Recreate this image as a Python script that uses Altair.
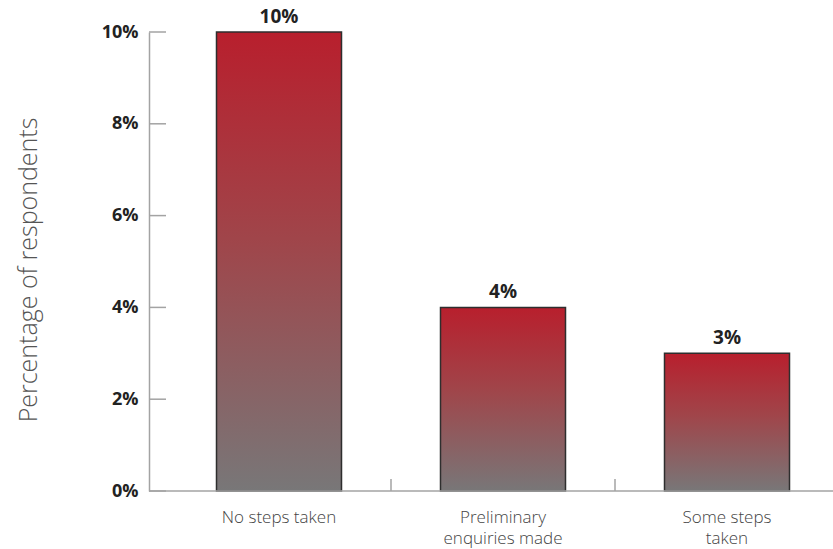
import altair as alt
import pandas as pd

# Survey responses: share of respondents by stage of action taken
categories = ["No steps taken", "Preliminary|enquiries made", "Some steps|taken"]
shares = [10, 4, 3]
value_labels = ["10%", "4%", "3%"]
y_ticks = [0, 2, 4, 6, 8, 10]
separator_after = ["No steps taken", "Preliminary|enquiries made"]

bars_df = pd.DataFrame({"category": categories, "share": shares, "label": value_labels})
ticks_df = pd.DataFrame({"tick": y_ticks})
sep_df = pd.DataFrame({"category": separator_after})
base_df = pd.DataFrame({"share": [0]})

W, H = 684, 459
FONT = "Open Sans"
AXIS_GREY = "#a3a3a3"

x_scale = alt.Scale(domain=categories, range=[18, 690], paddingInner=0, paddingOuter=0)
y_scale = alt.Scale(domain=[0, 10], nice=False)

x_enc = alt.X(
    "category:N",
    scale=x_scale,
    sort=categories,
    axis=alt.Axis(
        title=None,
        ticks=False,
        domain=False,
        labelAngle=0,
        labelExpr="split(datum.label, '|')",
        labelFont=FONT,
        labelFontSize=17,
        labelFontWeight=300,
        labelColor="#444444",
        labelPadding=18,
        labelLineHeight=21,
    ),
)

y_enc = alt.Y(
    "share:Q",
    scale=y_scale,
    axis=alt.Axis(
        values=y_ticks,
        labelExpr="datum.value + '%'",
        ticks=False,
        grid=False,
        domainColor=AXIS_GREY,
        domainWidth=1.5,
        labelFont=FONT,
        labelFontSize=18,
        labelFontWeight="bold",
        labelColor="#222222",
        labelPadding=11,
        title="Percentage of respondents",
        titleFont=FONT,
        titleFontSize=25,
        titleFontWeight=300,
        titleColor="#555555",
        titleAngle=-90,
        titleX=-121,
        titleY=H / 2 + 8,
        titleAlign="center",
        titleBaseline="middle",
    ),
)

gradient = alt.Gradient(
    gradient="linear",
    stops=[
        alt.GradientStop(color="#b81f2d", offset=0),
        alt.GradientStop(color="#a0454a", offset=0.45),
        alt.GradientStop(color="#787778", offset=1),
    ],
    x1=0, x2=0, y1=0, y2=1,
)

bars = alt.Chart(bars_df).mark_bar(
    width=alt.RelativeBandSize(125 / 224),
    color=gradient,
    stroke="#2e2e2e",
    strokeWidth=1.5,
).encode(x=x_enc, y=y_enc)

labels = alt.Chart(bars_df).mark_text(
    baseline="bottom", dy=-5, font=FONT, fontSize=19, fontWeight="bold", color="#222222"
).encode(x=alt.X("category:N", scale=x_scale, sort=categories), y=alt.Y("share:Q", scale=y_scale), text="label:N")

# Inward-pointing ticks on the value axis
y_tick_marks = alt.Chart(ticks_df).mark_rule(color=AXIS_GREY, strokeWidth=1.5).encode(
    y=alt.Y("tick:Q", scale=y_scale), x=alt.value(0), x2=alt.value(17)
)

# Baseline along zero
baseline = alt.Chart(base_df).mark_rule(color=AXIS_GREY, strokeWidth=1.5).encode(
    y=alt.Y("share:Q", scale=y_scale), x=alt.value(0), x2=alt.value(W)
)

# Short upward separators between category bands
separators = alt.Chart(sep_df).mark_rule(color=AXIS_GREY, strokeWidth=1.5).encode(
    x=alt.X("category:N", scale=x_scale, bandPosition=1),
    y=alt.value(H - 12),
    y2=alt.value(H),
)

chart = alt.layer(bars, labels, y_tick_marks, baseline, separators).properties(
    width=W,
    height=H,
    autosize=alt.AutoSizeParams(type="none"),
    padding={"left": 149, "top": 32, "right": 0, "bottom": 58},
    background="white",
).configure_view(stroke=None)

chart.save("out.html", embed_options={"renderer": "svg", "actions": False})
